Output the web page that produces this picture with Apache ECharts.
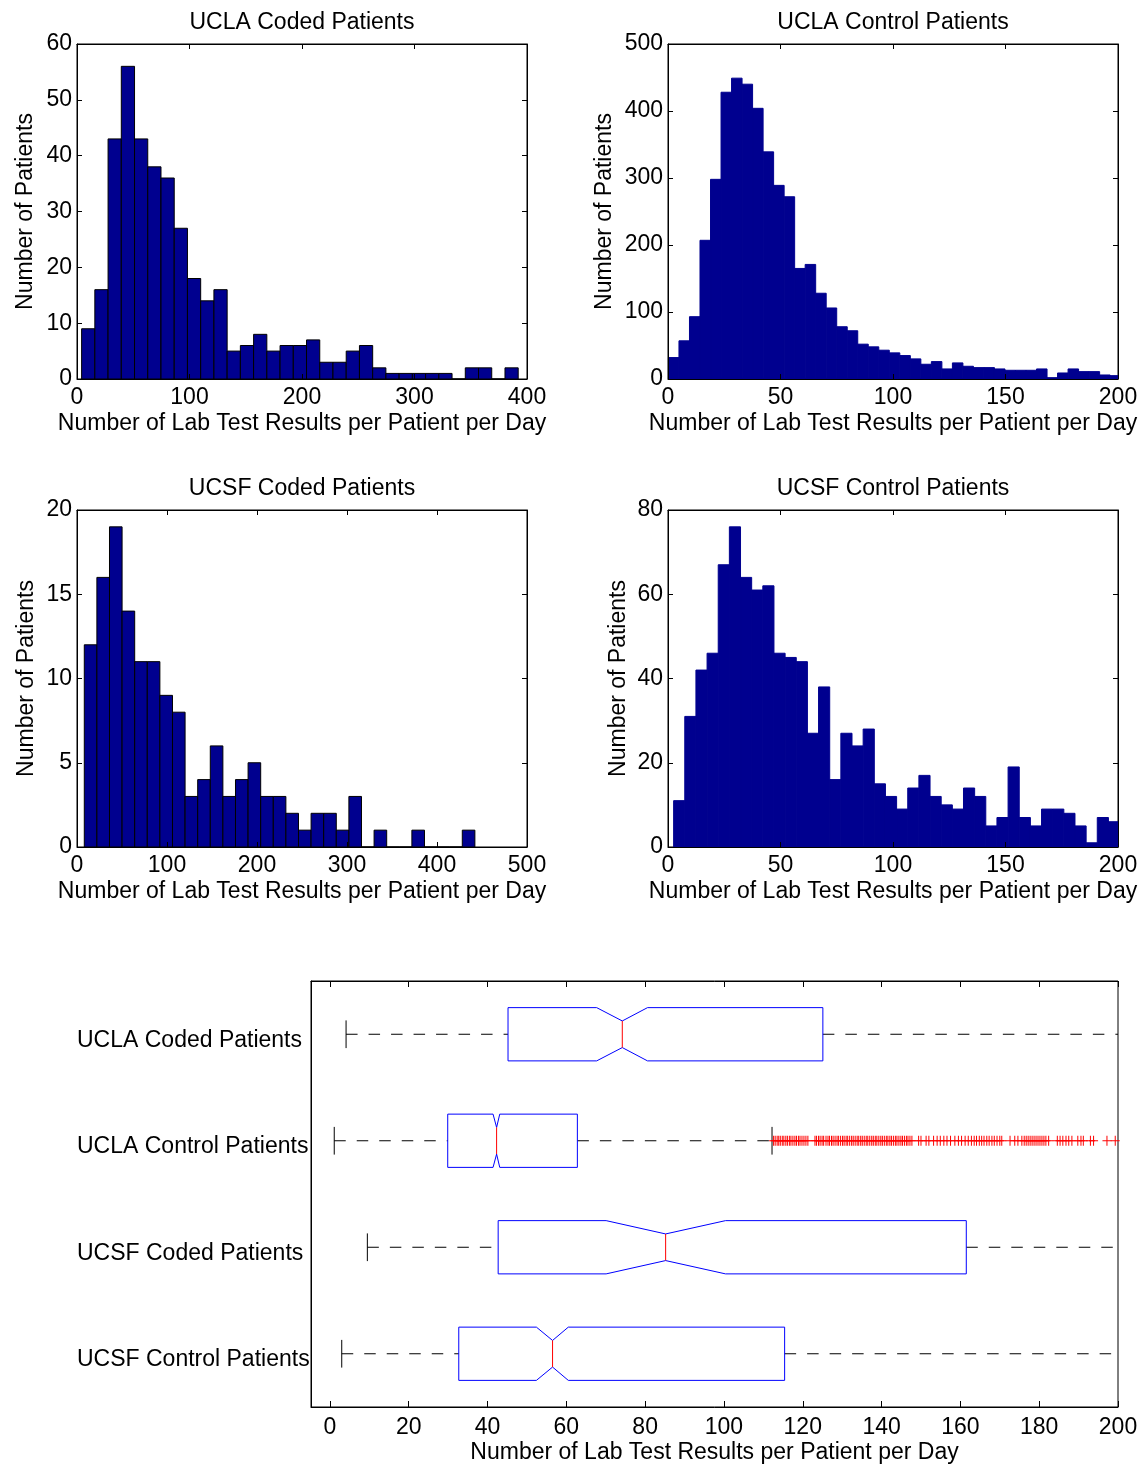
<!DOCTYPE html>
<html><head><meta charset="utf-8">
<script src="https://cdn.jsdelivr.net/npm/echarts@6/dist/echarts.min.js"></script>
<style>html,body{margin:0;padding:0;background:#fff}#c{width:1148px;height:1465px}</style>
</head><body><div id="c"></div>
<script>
// ---------------- DATA ----------------
const histTitles = ['UCLA Coded Patients', 'UCLA Control Patients', 'UCSF Coded Patients', 'UCSF Control Patients'];
const xAxisTitle = 'Number of Lab Test Results per Patient per Day';
const yAxisTitle = 'Number of Patients';

// UCLA Coded histogram
const uclaCodedBinStart = 4.1, uclaCodedBinWidth = 11.76;
const uclaCodedCounts = [9,16,43,56,43,38,36,27,18,14,16,5,6,8,5,6,6,7,3,3,5,6,2,1,1,1,1,1,0,2,2,0,2];
// UCLA Control histogram
const uclaControlBinStart = 0.2, uclaControlBinWidth = 4.674;
const uclaControlCounts = [32,57,93,207,298,428,449,440,404,339,289,272,165,171,128,106,78,72,52,48,43,39,35,30,22,26,15,24,19,17,17,15,13,13,13,15,2,9,15,11,11,6,5];
// UCSF Coded histogram
const ucsfCodedBinStart = 8.1, ucsfCodedBinWidth = 14.0;
const ucsfCodedCounts = [12,16,19,14,11,11,9,8,3,4,6,3,4,5,3,3,2,1,2,2,1,3,0,1,0,0,1,0,0,0,1];
// UCSF Control histogram
const ucsfControlBinStart = 2.5, ucsfControlBinWidth = 4.955;
const ucsfControlCounts = [11,31,42,46,67,76,64,61,62,46,45,44,27,38,16,27,24,28,15,12,9,14,17,12,10,9,14,12,5,7,19,7,5,9,9,8,5,1,7,6];

// histogram axis ranges
const histXMax = [400, 200, 500, 200];
const histXStep = [100, 50, 100, 50];
const histYMax = [60, 500, 20, 80];
const histYStep = [10, 100, 5, 20];

// Box plot
const boxCategories = ['UCLA Coded Patients', 'UCLA Control Patients', 'UCSF Coded Patients', 'UCSF Control Patients'];
const boxLowerWhisker = [4.1, 1.1, 9.5, 3.0];
const boxQ1 = [45.2, 29.9, 42.7, 32.7];
const boxNotchLow = [67.7, 41.4, 70.1, 52.4];
const boxMedian = [74.2, 42.3, 85.2, 56.5];
const boxNotchHigh = [80.6, 43.1, 100.4, 60.5];
const boxQ3 = [125.1, 62.8, 161.5, 115.4];
const boxUpperWhisker = [243, 112.2, 315, 238];
const uclaControlOutliers = [
  112.6,113.0,113.5,113.9,114.3,114.8,115.2,115.7,116.1,116.6,117.0,117.5,118.0,118.4,118.9,119.3,119.8,120.3,120.8,121.3,
  123.1,123.5,124.0,124.4,124.9,125.3,125.9,126.4,126.8,127.3,127.7,128.2,128.7,129.1,129.6,130.1,130.5,131.0,131.4,131.9,
  132.4,132.8,133.3,133.8,134.2,134.7,135.1,135.6,136.1,136.5,137.0,137.5,137.9,138.4,138.8,139.3,139.8,140.2,140.7,141.2,
  141.6,142.1,142.5,143.0,143.5,143.9,144.4,144.9,145.3,145.8,146.3,146.7,147.2,147.7,
  149.4,150.0,151.3,152.0,153.2,154.1,154.9,155.8,156.6,157.5,158.6,159.5,160.3,161.2,162.0,162.8,163.5,164.1,164.8,165.4,
  166.0,166.7,167.3,168.0,168.6,169.3,170.0,170.5,
  172.6,173.8,174.6,175.6,176.2,176.7,177.2,177.7,178.2,178.7,179.2,179.7,180.2,180.7,181.2,181.7,182.4,
  184.6,185.3,186.0,186.8,187.5,188.3,189.8,190.6,191.2,193.0,193.8,197.2,199.3
];
const boxTickValues = [0, 20, 40, 60, 80, 100, 120, 140, 160, 180, 200];
const boxXMin = -4.8, boxXMax = 200;

// ---------------- STYLE ----------------
const FONT = '"Liberation Sans", Arial, Helvetica, sans-serif';
const FS = 23;
const histFill = '#00008F';
const txt = {fontFamily: FONT, fontSize: FS, color: '#000'};

const grids = [
  {left: 77, top: 44, width: 450, height: 335},
  {left: 668, top: 44, width: 450, height: 335},
  {left: 77, top: 510, width: 450, height: 337},
  {left: 668, top: 510, width: 450, height: 337},
  {left: 311, top: 981, width: 807, height: 427}
].map(g => Object.assign({show: true, borderColor: '#000', borderWidth: 1, backgroundColor: 'transparent'}, g));

const yNameGaps = [40, 52, 39, 38];

const xAxes = [], yAxes = [];
for (let i = 0; i < 4; i++) {
  const common = {gridIndex: i, type: 'value', min: 0, max: histXMax[i], interval: histXStep[i], z: 10,
    splitLine: {show: false}, axisLine: {show: true, onZero: false, lineStyle: {color: '#000', width: 1}},
    axisTick: {show: true, inside: true, length: 5, lineStyle: {color: '#000'}}};
  xAxes.push(Object.assign({}, common, {position: 'bottom',
    axisLabel: Object.assign({margin: 7, showMinLabel: true, showMaxLabel: true}, txt),
    name: xAxisTitle, nameLocation: 'middle', nameGap: 33, nameTextStyle: txt}));
  xAxes.push(Object.assign({}, common, {position: 'top', axisLabel: {show: false}}));
  const ycommon = {gridIndex: i, type: 'value', min: 0, max: histYMax[i], interval: histYStep[i], z: 10,
    splitLine: {show: false}, axisLine: {show: true, onZero: false, lineStyle: {color: '#000', width: 1}},
    axisTick: {show: true, inside: true, length: 5, lineStyle: {color: '#000'}}};
  yAxes.push(Object.assign({}, ycommon, {position: 'left',
    axisLabel: Object.assign({margin: 5}, txt),
    name: yAxisTitle, nameLocation: 'middle', nameGap: yNameGaps[i], nameTextStyle: txt}));
  yAxes.push(Object.assign({}, ycommon, {position: 'right', axisLabel: {show: false}}));
}
// box plot axes
xAxes.push({gridIndex: 4, type: 'value', min: boxXMin, max: boxXMax, position: 'bottom', z: 10,
  splitLine: {show: false}, axisLine: {show: true, onZero: false, lineStyle: {color: '#000'}},
  axisTick: {show: true, inside: true, length: 6, customValues: boxTickValues, lineStyle: {color: '#000'}},
  axisLabel: Object.assign({margin: 9, customValues: boxTickValues}, txt),
  name: xAxisTitle, nameLocation: 'middle', nameGap: 34, nameTextStyle: txt});
xAxes.push({gridIndex: 4, type: 'value', min: boxXMin, max: boxXMax, position: 'top', z: 10,
  splitLine: {show: false}, axisLine: {show: true, onZero: false, lineStyle: {color: '#000'}},
  axisTick: {show: true, inside: true, length: 6, customValues: boxTickValues, lineStyle: {color: '#000'}},
  axisLabel: {show: false}});
yAxes.push({gridIndex: 4, type: 'category', data: boxCategories, inverse: true, z: 10, position: 'left',
  axisLine: {show: true, onZero: false, lineStyle: {color: '#000'}}, axisTick: {show: false}, splitLine: {show: false},
  axisLabel: Object.assign({align: 'left', margin: 234, verticalAlign: 'top', lineHeight: 12}, txt)});

function histSeries(i, start, width, counts, edge) {
  return {
    type: 'custom', xAxisIndex: i * 2, yAxisIndex: i * 2, z: 2,
    data: counts.map((c, k) => [start + k * width, start + (k + 1) * width, c]),
    encode: {x: [0, 1], y: 2},
    renderItem: function (params, api) {
      const cs = params.coordSys;
      const a = api.coord([api.value(0), api.value(2)]);
      const b = api.coord([api.value(1), 0]);
      const x0 = Math.max(a[0], cs.x), x1 = Math.min(b[0], cs.x + cs.width);
      if (x1 <= x0) return null;
      return {type: 'rect', shape: {x: x0, y: a[1], width: x1 - x0, height: b[1] - a[1]},
        style: {fill: histFill, stroke: edge, lineWidth: 1}};
    }
  };
}

const boxData = boxCategories.map((c, i) => [boxLowerWhisker[i], i, boxQ1[i], boxNotchLow[i], boxMedian[i], boxNotchHigh[i], boxQ3[i], boxUpperWhisker[i]]);

const boxSeries = {
  type: 'custom', xAxisIndex: 8, yAxisIndex: 8, z: 3,
  data: boxData, encode: {x: [0, 2, 3, 4, 5, 6, 7], y: 1},
  renderItem: function (params, api) {
    const cs = params.coordSys;
    const cat = api.value(1);
    const band = api.size([0, 1])[1];
    const yc = api.coord([0, cat])[1];
    const hb = band * 0.25, hn = band * 0.125, hc = band * 0.13;
    const X = v => api.coord([v, cat])[0];
    const right = cs.x + cs.width;
    const lw = X(api.value(0)), q1 = X(api.value(2)), nl = X(api.value(3)), md = X(api.value(4)),
      nh = X(api.value(5)), q3 = X(api.value(6)), uwRaw = X(api.value(7));
    const uw = Math.min(uwRaw, right);
    const dash = {stroke: '#000', lineWidth: 1, lineDash: [11.5, 11], fill: null};
    const solid = {stroke: '#000', lineWidth: 1, fill: null};
    const ch = [];
    ch.push({type: 'line', shape: {x1: lw, y1: yc, x2: q1, y2: yc}, style: dash});
    ch.push({type: 'line', shape: {x1: q3, y1: yc, x2: uw, y2: yc}, style: dash});
    ch.push({type: 'line', shape: {x1: lw, y1: yc - hc, x2: lw, y2: yc + hc}, style: solid});
    if (uwRaw <= right) ch.push({type: 'line', shape: {x1: uw, y1: yc - hc, x2: uw, y2: yc + hc}, style: solid});
    ch.push({type: 'polygon', shape: {points: [[q1, yc - hb], [nl, yc - hb], [md, yc - hn], [nh, yc - hb], [q3, yc - hb],
      [q3, yc + hb], [nh, yc + hb], [md, yc + hn], [nl, yc + hb], [q1, yc + hb]]},
      style: {fill: 'none', stroke: '#0000FF', lineWidth: 1}});
    ch.push({type: 'line', shape: {x1: md, y1: yc - hn, x2: md, y2: yc + hn}, style: {stroke: '#FF0000', lineWidth: 1}});
    return {type: 'group', children: ch};
  }
};

const outlierSeries = {
  type: 'custom', xAxisIndex: 8, yAxisIndex: 8, z: 4,
  data: uclaControlOutliers.map(v => [v, 1]), encode: {x: 0, y: 1},
  renderItem: function (params, api) {
    const p = api.coord([api.value(0), api.value(1)]);
    const st = {stroke: '#FF0000', lineWidth: 1};
    return {type: 'group', children: [
      {type: 'line', shape: {x1: p[0] - 4.5, y1: p[1], x2: p[0] + 4.5, y2: p[1]}, style: st},
      {type: 'line', shape: {x1: p[0], y1: p[1] - 5, x2: p[0], y2: p[1] + 5}, style: st}
    ]};
  }
};

const titlePos = [[302, 23], [893, 23], [302, 489], [893, 489]];

const option = {
  backgroundColor: '#fff',
  animation: false,
  grid: grids,
  xAxis: xAxes,
  yAxis: yAxes,
  graphic: histTitles.map((t, i) => ({type: 'text', x: titlePos[i][0], y: titlePos[i][1],
    style: {text: t, fontFamily: FONT, fontSize: FS, fill: '#000', textAlign: 'center', textVerticalAlign: 'middle'}})),
  series: [
    histSeries(0, uclaCodedBinStart, uclaCodedBinWidth, uclaCodedCounts, '#000'),
    histSeries(1, uclaControlBinStart, uclaControlBinWidth, uclaControlCounts, histFill),
    histSeries(2, ucsfCodedBinStart, ucsfCodedBinWidth, ucsfCodedCounts, '#000'),
    histSeries(3, ucsfControlBinStart, ucsfControlBinWidth, ucsfControlCounts, histFill),
    boxSeries,
    outlierSeries
  ]
};

const chart = echarts.init(document.getElementById('c'), null, {renderer: 'canvas'});
chart.setOption(option);
</script>
</body></html>
